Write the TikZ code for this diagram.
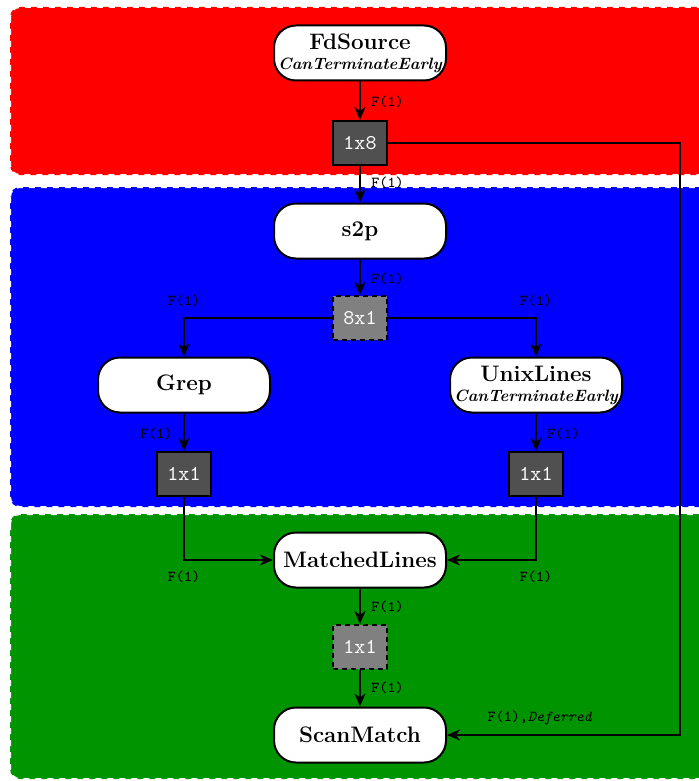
\documentclass[tikz,border=0pt]{standalone}
\usetikzlibrary{arrows.meta}
\definecolor{stagered}{RGB}{255,0,0}
\definecolor{stageblue}{RGB}{0,0,255}
\definecolor{stagegreen}{RGB}{0,148,0}
\definecolor{bufdark}{RGB}{80,80,80}
\definecolor{buflight}{RGB}{128,128,128}
\newcommand\attrtext[1]{{\fontsize{8.2}{9}\selectfont\bfseries\itshape #1}}
\begin{document}
\begin{tikzpicture}[x=0.5pt,y=-0.5pt,
  stage/.style={draw=white,dashed,dash pattern=on 3pt off 3pt,line width=1pt,rounded corners=5pt},
  op/.style={draw=black,fill=white,line width=1pt,rounded corners=11pt,
    minimum width=86pt,minimum height=27.5pt,inner sep=1pt,align=center,
    font=\fontsize{11.2}{12}\selectfont\bfseries},
  buf/.style={draw=black,line width=1pt,fill=bufdark,minimum width=27pt,minimum height=22pt,
    inner sep=0pt,text=white,font=\fontsize{10.5}{12}\ttfamily},
  dbuf/.style={buf,fill=buflight,dashed,dash pattern=on 2.5pt off 2pt},
  flow/.style={draw=black,line width=1pt,-{Stealth[length=6.5pt,width=5.5pt,inset=2pt]}},
  lbl/.style={font=\fontsize{7.6}{9}\ttfamily,inner sep=1pt}]
\useasboundingbox (0,0) rectangle (699,781);
\begin{scope}
\clip (0,0) rectangle (699,781);
% pipeline stages
\fill[stagered,rounded corners=5pt] (10,7) rectangle (740,175);
\draw[stage] (10,7) rectangle (740,175);
\fill[stageblue,rounded corners=5pt] (10,187) rectangle (740,507);
\draw[stage] (10,187) rectangle (740,507);
\fill[stagegreen,rounded corners=5pt] (10,514) rectangle (740,779);
\draw[stage] (10,514) rectangle (740,779);
\end{scope}

% operators
\node[op] (src) at (360,53) {FdSource\\[-2pt]\attrtext{CanTerminateEarly}};
\node[op] (s2p) at (360,231) {s2p};
\node[op] (grep) at (184,385) {Grep};
\node[op] (unix) at (536,385) {UnixLines\\[-2pt]\attrtext{CanTerminateEarly}};
\node[op] (match) at (360,560) {MatchedLines};
\node[op] (scan) at (360,735) {ScanMatch};

% buffers
\node[buf] (b18) at (360,143) {1x8};
\node[dbuf] (b81) at (360,318) {8x1};
\node[buf] (bg) at (184,474) {1x1};
\node[buf] (bu) at (536,474) {1x1};
\node[dbuf] (b11) at (360,647) {1x1};
\coordinate (rail) at (680,143);

% connectors
\draw[flow] (src) -- (b18);
\draw[flow] (b18) -- (s2p);
\draw[flow] (s2p) -- (b81);
\draw[flow] (b81.west) -| (grep.north);
\draw[flow] (b81.east) -| (unix.north);
\draw[flow] (grep) -- (bg);
\draw[flow] (unix) -- (bu);
\draw[flow] (bg.south) |- (match.west);
\draw[flow] (bu.south) |- (match.east);
\draw[flow] (match) -- (b11);
\draw[flow] (b11) -- (scan);
\draw[flow] (b18.east) -- (rail) |- (scan.east);

% connector labels
\node[lbl,anchor=west] (l1) at (369,102) {F(1)};
\node[lbl,anchor=west] (l2) at (369,183) {F(1)};
\node[lbl,anchor=west] (l3) at (369,279) {F(1)};
\node[lbl] (l4) at (184,301) {F(1)};
\node[lbl] (l5) at (536,301) {F(1)};
\node[lbl,anchor=east] (l6) at (175,434) {F(1)};
\node[lbl,anchor=west] (l7) at (545,434) {F(1)};
\node[lbl] (l8) at (184,577) {F(1)};
\node[lbl] (l9) at (536,577) {F(1)};
\node[lbl,anchor=west] (l10) at (369,607) {F(1)};
\node[lbl,anchor=west] (l11) at (369,688) {F(1)};
\node[lbl] (l12) at (540,718) {F(1),\textit{Deferred}};
\end{tikzpicture}
\end{document}
